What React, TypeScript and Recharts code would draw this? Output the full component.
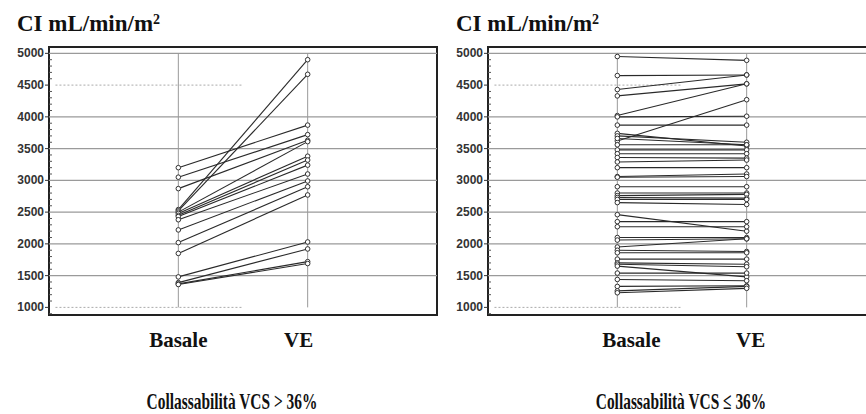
import React from 'react'
import { LineChart, Line, XAxis, YAxis, ReferenceLine, ReferenceArea } from 'recharts'

// CI mL/min/m2, one entry per patient, Basale vs VE
const basaleHigh = [3200, 3050, 2870, 2540, 2520, 2500, 2480, 2450, 2430, 2380, 2220, 2020, 1850, 1480, 1390, 1370, 1360]
const veHigh = [3870, 3720, 3630, 4900, 4670, 3610, 3380, 3320, 3240, 3100, 2990, 2900, 2770, 2030, 1920, 1720, 1690]

const basaleLow = [
  4950, 4650, 4430, 4330, 4020, 4000, 3870, 3620, 3740, 3700, 3660, 3560, 3480, 3420, 3360, 3290, 3200, 3060, 3050, 2900,
  2800, 2760, 2730, 2700, 2650, 2460, 2350, 2270, 2100, 2060, 1950, 1900, 1860, 1760, 1700, 1680, 1650, 1540, 1440, 1330,
  1260, 1230,
]
const veLow = [
  4890, 4660, 4660, 4520, 4520, 4010, 3870, 4270, 3540, 3600, 3560, 3560, 3480, 3420, 3350, 3320, 3200, 3100, 3060, 2900,
  2800, 2780, 2720, 2700, 2620, 2200, 2350, 2270, 2100, 2080, 2080, 1880, 1860, 1760, 1680, 1640, 1480, 1540, 1420, 1340,
  1330, 1300,
]

const timepoints = ['Basale', 'VE']
const gridValues = [1500, 2000, 2500, 3000, 3500, 4000, 5000]
const minorTicks = Array.from({ length: 42 }, (_, i) => 900 + i * 100)

const SERIF = '"Liberation Serif", "Times New Roman", serif'

const YTick = (props: any) => {
  const { x, y, payload } = props
  const v = payload.value
  const major = v % 500 === 0
  return (
    <g>
      {major ? (
        <line x1={x - 4} x2={x} y1={y} y2={y} stroke="#333" />
      ) : (
        <line x1={x} x2={x + 3} y1={y} y2={y} stroke="#555" />
      )}
      {major && v >= 1000 && (
        <text
          x={x - 5}
          y={y}
          dy={4}
          textAnchor="end"
          fontSize={12}
          fontWeight={700}
          fill="#333"
          fontFamily='"Liberation Sans", Arial, sans-serif'
        >
          {v}
        </text>
      )}
    </g>
  )
}

const XTick = (props: any) => {
  const { x, y, payload, shifts } = props
  const dx = shifts[payload.value - 1]
  return (
    <text x={x + dx} y={y} dy={15} textAnchor="middle" fontSize={21} fontWeight={700} fill="#111" fontFamily={SERIF}>
      {timepoints[payload.value - 1]}
    </text>
  )
}

const Panel = ({ basale, ve, shifts }: { basale: number[]; ve: number[]; shifts: number[] }) => {
  const data = [1, 2].map((x) => {
    const row: Record<string, number> = { x }
    basale.forEach((b, i) => {
      row[`p${i}`] = x === 1 ? b : ve[i]
    })
    return row
  })

  return (
    <LineChart width={440} height={414} data={data} margin={{ top: 47, right: 3, bottom: 0, left: 4 }}>
      <XAxis
        dataKey="x"
        type="number"
        domain={[0, 3]}
        ticks={[1, 2]}
        height={99}
        axisLine={false}
        tickLine={false}
        tickSize={0}
        tickMargin={17}
        tick={<XTick shifts={shifts} />}
      />
      <YAxis
        type="number"
        domain={[880, 5100]}
        ticks={minorTicks}
        interval={0}
        width={45}
        axisLine={false}
        tickLine={false}
        tickSize={0}
        tickMargin={0}
        tick={<YTick />}
      />
      {gridValues.map((v) => (
        <ReferenceLine key={v} y={v} stroke="#9a9a9a" strokeWidth={1.2} />
      ))}
      <ReferenceLine segment={[{ x: 0.05, y: 4500 }, { x: 1.5, y: 4500 }]} stroke="#aaa" strokeDasharray="2 2" />
      <ReferenceLine segment={[{ x: 0.05, y: 1000 }, { x: 1.5, y: 1000 }]} stroke="#aaa" strokeDasharray="2 2" />
      <ReferenceLine segment={[{ x: 1, y: 1000 }, { x: 1, y: 5000 }]} stroke="#999" />
      <ReferenceLine segment={[{ x: 2, y: 1000 }, { x: 2, y: 5000 }]} stroke="#999" />
      <ReferenceArea x1={0} x2={3} y1={880} y2={5100} fill="none" stroke="#222" strokeWidth={2} />
      {basale.map((_, i) => (
        <Line
          key={i}
          dataKey={`p${i}`}
          stroke="#2a2a2a"
          strokeWidth={1.1}
          dot={{ r: 2.3, fill: '#fff', stroke: '#333', strokeWidth: 1 }}
          isAnimationActive={false}
        />
      ))}
    </LineChart>
  )
}

const Title = ({ left }: { left: number }) => (
  <div
    style={{
      position: 'absolute',
      left,
      top: 9,
      fontFamily: SERIF,
      fontWeight: 700,
      fontSize: 23,
      color: '#111',
      lineHeight: '30px',
    }}
  >
    CI mL/min/m<sup style={{ fontSize: 14, verticalAlign: 'top', lineHeight: '22px' }}>2</sup>
  </div>
)

const Caption = ({ center, text }: { center: number; text: string }) => (
  <div
    style={{
      position: 'absolute',
      left: center - 160,
      width: 320,
      top: 390,
      textAlign: 'center',
      fontFamily: SERIF,
      fontWeight: 700,
      fontSize: 23,
      color: '#111',
      lineHeight: '24px',
      transform: 'scaleX(0.67)',
      transformOrigin: 'center',
    }}
  >
    {text}
  </div>
)

export default function App() {
  return (
    <div style={{ position: 'absolute', left: 0, top: 0, width: 866, height: 414, overflow: 'hidden', background: '#fff' }}>
      <div style={{ position: 'absolute', left: 0, top: 0 }}>
        <Panel basale={basaleHigh} ve={veHigh} shifts={[0, -9]} />
      </div>
      <div style={{ position: 'absolute', left: 439, top: 0 }}>
        <Panel basale={basaleLow} ve={veLow} shifts={[14, 4]} />
      </div>
      <Title left={17} />
      <Title left={456} />
      <Caption center={232} text="Collassabilità VCS > 36%" />
      <Caption center={681} text="Collassabilità VCS ≤ 36%" />
    </div>
  )
}
